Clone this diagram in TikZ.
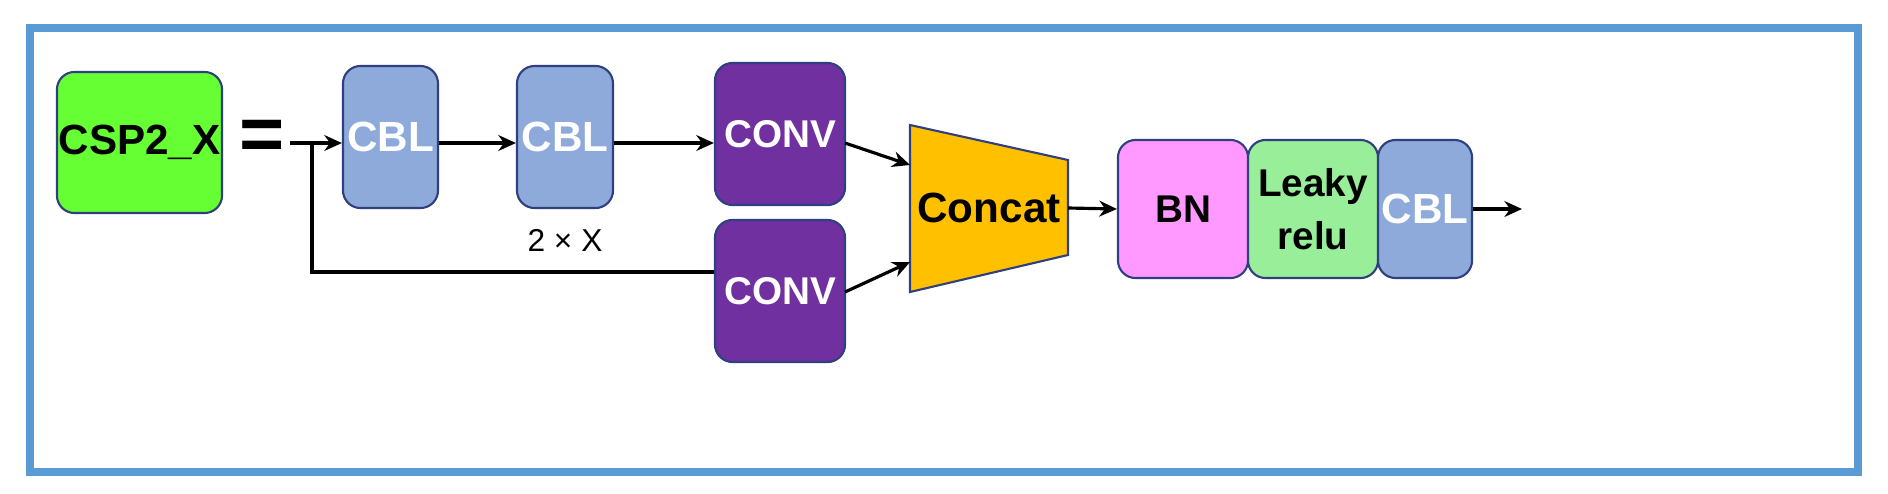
\documentclass[tikz,border=0pt]{standalone}
\usepackage{fontspec}
\setmainfont{Liberation Sans}
\usetikzlibrary{arrows.meta}
\definecolor{bord}{HTML}{5B9BD5}
\definecolor{cbl}{HTML}{8EAADB}
\definecolor{nav}{HTML}{2F3F7F}
\definecolor{conv}{HTML}{7030A0}
\definecolor{cat}{HTML}{FFC000}
\definecolor{bnc}{HTML}{FF99FF}
\definecolor{lrc}{HTML}{99EE99}
\definecolor{cspc}{HTML}{66FF33}
\tikzset{
 blk/.style={draw=nav,line width=0.6pt,rounded corners=5pt,minimum width=#1,inner sep=0pt,font=\bfseries},
 arr/.style={-{Stealth[length=5pt,width=4.5pt]},line width=0.9pt}
}
\begin{document}
\begin{tikzpicture}[x=0.01cm,y=-0.01cm]
\useasboundingbox (0,0) rectangle (1888,494);
\draw[bord,line width=2.2pt] (30,28) rectangle (1858,472);
\node[blk=1.65cm,fill=cspc,minimum height=1.41cm,font=\bfseries\fontsize{12}{14}\selectfont] (csp) at (139.5,142.5) {CSP2\_X};
\node[font=\bfseries\fontsize{22}{22}\selectfont] (eq) at (262,140) {=};
\coordinate (s) at (290,143);
\coordinate (j) at (312,143);
\node[blk=0.95cm,fill=cbl,minimum height=1.42cm,text=white,font=\bfseries\fontsize{12}{14}\selectfont] (c1) at (390.5,137) {CBL};
\node[blk=0.96cm,fill=cbl,minimum height=1.42cm,text=white,font=\bfseries\fontsize{12}{14}\selectfont] (c2) at (565,137) {CBL};
\node[blk=1.3cm,fill=conv,minimum height=1.42cm,text=white,font=\bfseries\fontsize{11}{13}\selectfont] (v1) at (780,134) {CONV};
\node[blk=1.3cm,fill=conv,minimum height=1.42cm,text=white,font=\bfseries\fontsize{11}{13}\selectfont] (v2) at (780,291) {CONV};
\node[font=\fontsize{9}{11}\selectfont] (lx) at (565,240) {2 × X};
\draw[fill=cat,draw=nav,line width=0.6pt] (910,125) -- (1068,160) -- (1068,255) -- (910,292) -- cycle;
\node[font=\bfseries\fontsize{12}{14}\selectfont] (cc) at (989,208) {Concat};
\coordinate (cl1) at (910,165); \coordinate (cl2) at (910,262); \coordinate (cr) at (1068,208);
\node[blk=1.3cm,fill=bnc,minimum height=1.38cm,font=\bfseries\fontsize{11}{13}\selectfont] (bn) at (1183,209) {BN};
\node[blk=1.3cm,fill=lrc,minimum height=1.38cm,align=center,font=\bfseries\fontsize{11}{15}\selectfont] (lr) at (1313,209) {Leaky\\relu};
\node[blk=0.94cm,fill=cbl,minimum height=1.38cm,text=white,font=\bfseries\fontsize{12}{14}\selectfont] (c3) at (1425,209) {CBL};
\coordinate (out) at (1522,209);
\draw[arr] (s) -- (c1.west|-s);
\draw[arr] (c1.east|-s) -- (c2.west|-s);
\draw[arr] (c2.east|-s) -- (v1.west|-s);
\draw[line width=0.9pt] (j) -- (312,272) -- (v2.west|-0,272);
\draw[arr] (845,143) -- (cl1);
\draw[arr] (845,292) -- (cl2);
\draw[arr] (cr) -- (bn.west);
\draw[arr] (c3.east) -- (out);
\end{tikzpicture}
\end{document}
